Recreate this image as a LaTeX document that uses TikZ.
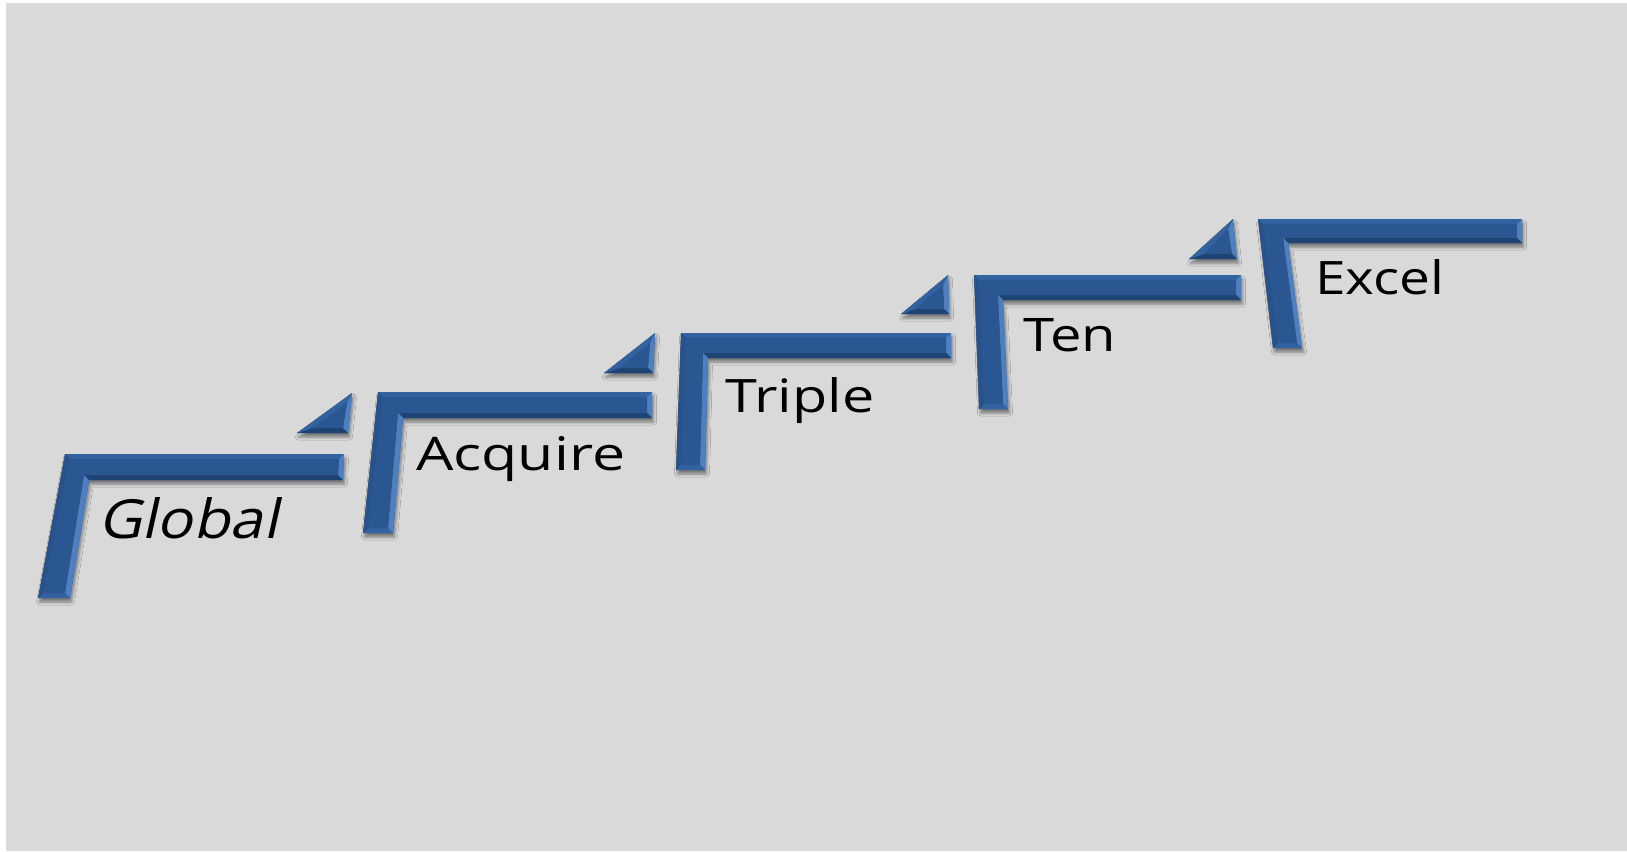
\documentclass[tikz,border=0pt]{standalone}
\usepackage{fontspec}
\setmainfont{Open Sans}
\newfontfamily\slantfont[FakeSlant=0.2]{Open Sans}
\usetikzlibrary{calc,shadows.blur}

\definecolor{bg}{HTML}{D9D9D9}
\definecolor{stepblue}{HTML}{2A5792}
\definecolor{stepdark}{HTML}{1E4474}
\definecolor{steplight}{HTML}{4F80BD}
\definecolor{stepmid}{HTML}{3262A0}
\definecolor{stepside}{HTML}{27528C}

\tikzset{
  stairshadow/.style={blur shadow={shadow xshift=1.5pt, shadow yshift=-4pt,
      shadow blur radius=3pt, shadow opacity=45}},
  label/.style={anchor=base west, inner sep=0pt, text=black},
}

% bevel width
\def\bv{5}

% L-shaped stair: A outer corner, B/C bar end, D inner corner, E/F foot
\newcommand\stairL[6]{%
  \coordinate (A) at (#1); \coordinate (B) at (#2); \coordinate (C) at (#3);
  \coordinate (D) at (#4); \coordinate (E) at (#5); \coordinate (F) at (#6);
  \coordinate (a) at ($(A)+(\bv,\bv)$);
  \coordinate (b) at ($(B)+(-\bv,\bv)$);
  \coordinate (c) at ($(C)+(-\bv,-\bv)$);
  \coordinate (d) at ($(D)+(-\bv,-\bv)$);
  \coordinate (e) at ($(E)+(-\bv,-\bv)$);
  \coordinate (f) at ($(F)+(\bv,-\bv)$);
  \fill[stepblue, stairshadow] (A)--(B)--(C)--(D)--(E)--(F)--cycle;
  \fill[stepmid]   (A)--(B)--(b)--(a)--cycle;
  \fill[steplight] (B)--(C)--(c)--(b)--cycle;
  \fill[stepdark]  (C)--(D)--(d)--(c)--cycle;
  \fill[steplight] (D)--(E)--(e)--(d)--cycle;
  \fill[stepmid]   (E)--(F)--(f)--(e)--cycle;
  \fill[stepside]  (F)--(A)--(a)--(f)--cycle;
  \fill[stepblue]  (a)--(b)--(c)--(d)--(e)--(f)--cycle;
}

% wedge: P apex, Q right corner, R left corner
\newcommand\stairT[3]{%
  \coordinate (P) at (#1); \coordinate (Q) at (#2); \coordinate (R) at (#3);
  \coordinate (p) at ($(P)+(-\bv,2*\bv)$);
  \coordinate (q) at ($(Q)+(-\bv,-\bv)$);
  \coordinate (r) at ($(R)+(3*\bv,-\bv)$);
  \fill[stepblue, stairshadow] (P)--(Q)--(R)--cycle;
  \fill[steplight] (P)--(Q)--(q)--(p)--cycle;
  \fill[stepdark]  (Q)--(R)--(r)--(q)--cycle;
  \fill[stepmid]   (R)--(P)--(p)--(r)--cycle;
  \fill[stepblue]  (p)--(q)--(r)--cycle;
}

\begin{document}
\begin{tikzpicture}[x=1pt,y=-1pt]
  \useasboundingbox (0,0) rectangle (1627,851);
  \fill[white] (0,0) rectangle (1627,851);
  \fill[bg] (6,3) rectangle (1627,851);

  % stair 1
  \stairL{65,454}{344,454}{343,480}{89,480}{70,598}{38,598}
  \stairT{352,393}{348,433}{297,433}
  % stair 2
  \stairL{378,392}{652,392}{652,418}{403,418}{393,533}{363,533}
  \stairT{655,333}{653,373}{604,373}
  % stair 3
  \stairL{681,333}{951,333}{951,358}{708,358}{705,470}{676,470}
  \stairT{948,275}{949,314}{901,314}
  % stair 4
  \stairL{974,275}{1241,275}{1241,300}{1003,300}{1008,409}{979,409}
  \stairT{1233,219}{1237,259}{1189,259}
  % stair 5
  \stairL{1258,219}{1522,219}{1522,243}{1288,243}{1302,348}{1273,348}

  \node[label] (global)  at (98,538)   {\resizebox{180pt}{41pt}{\slantfont Global}};
  \node[label] (acquire) at (416,470)  {\resizebox{209pt}{34pt}{Acquire}};
  \node[label] (triple)  at (725,412)  {\resizebox{149pt}{35pt}{Triple}};
  \node[label] (ten)     at (1023,351) {\resizebox{93pt}{33pt}{Ten}};
  \node[label] (excel)   at (1315,294) {\resizebox{129pt}{35pt}{Excel}};
\end{tikzpicture}
\end{document}
